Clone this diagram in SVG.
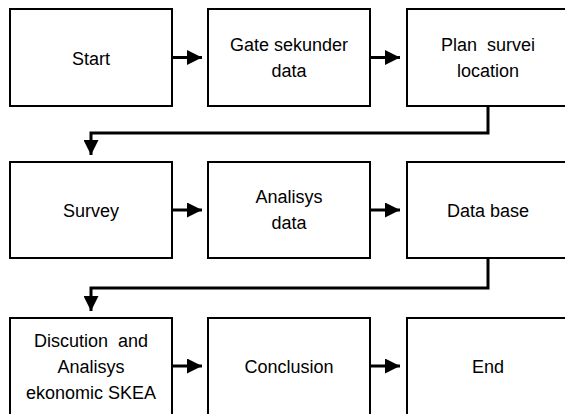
<svg xmlns="http://www.w3.org/2000/svg" width="565" height="414" viewBox="0 0 565 414">
<defs>
<style>
.box{fill:#fff;stroke:#000;stroke-width:2}
.lbl{font-family:"Liberation Sans",Arial,sans-serif;font-size:18px;fill:#000;text-anchor:middle;white-space:pre}
.con{fill:none;stroke:#000;stroke-width:3}
</style>
<marker id="ah" markerWidth="5" markerHeight="5" refX="5" refY="2.5" orient="auto" markerUnits="strokeWidth">
<path d="M0,0 L5,2.5 L0,5 Z" fill="#000"/>
</marker>
</defs>
<rect width="565" height="414" fill="#fff"/>
<g id="connectors">
<line class="con" x1="172" y1="57.5" x2="202" y2="57.5" marker-end="url(#ah)"/>
<line class="con" x1="370" y1="57.5" x2="400" y2="57.5" marker-end="url(#ah)"/>
<polyline class="con" points="488,106 488,133 91,133 91,155" marker-end="url(#ah)"/>
<line class="con" x1="172" y1="210" x2="202" y2="210" marker-end="url(#ah)"/>
<line class="con" x1="370" y1="210" x2="400" y2="210" marker-end="url(#ah)"/>
<polyline class="con" points="488,258 488,288 91,288 91,311" marker-end="url(#ah)"/>
<line class="con" x1="172" y1="366" x2="202" y2="366" marker-end="url(#ah)"/>
<line class="con" x1="370" y1="366" x2="400" y2="366" marker-end="url(#ah)"/>
</g>
<g id="start"><rect class="box" x="10" y="9" width="162" height="97"/><text class="lbl" x="91" y="65">Start</text></g>
<g id="gate"><rect class="box" x="208" y="9" width="162" height="97"/><text class="lbl" x="289" y="51">Gate sekunder</text><text class="lbl" x="289" y="77">data</text></g>
<g id="plan"><rect class="box" x="407" y="9" width="162" height="97"/><text class="lbl" x="488" y="51">Plan  survei</text><text class="lbl" x="488" y="77">location</text></g>
<g id="survey"><rect class="box" x="10" y="162" width="162" height="96"/><text class="lbl" x="91" y="217">Survey</text></g>
<g id="analisys"><rect class="box" x="208" y="162" width="162" height="96"/><text class="lbl" x="289" y="203">Analisys</text><text class="lbl" x="289" y="229">data</text></g>
<g id="database"><rect class="box" x="407" y="162" width="162" height="96"/><text class="lbl" x="488" y="217">Data base</text></g>
<g id="discution"><rect class="box" x="10" y="318" width="162" height="97"/><text class="lbl" x="91" y="347">Discution  and</text><text class="lbl" x="91" y="373">Analisys</text><text class="lbl" x="91" y="399">ekonomic SKEA</text></g>
<g id="conclusion"><rect class="box" x="208" y="318" width="162" height="97"/><text class="lbl" x="289" y="373">Conclusion</text></g>
<g id="end"><rect class="box" x="407" y="318" width="162" height="97"/><text class="lbl" x="488" y="373">End</text></g>
</svg>
